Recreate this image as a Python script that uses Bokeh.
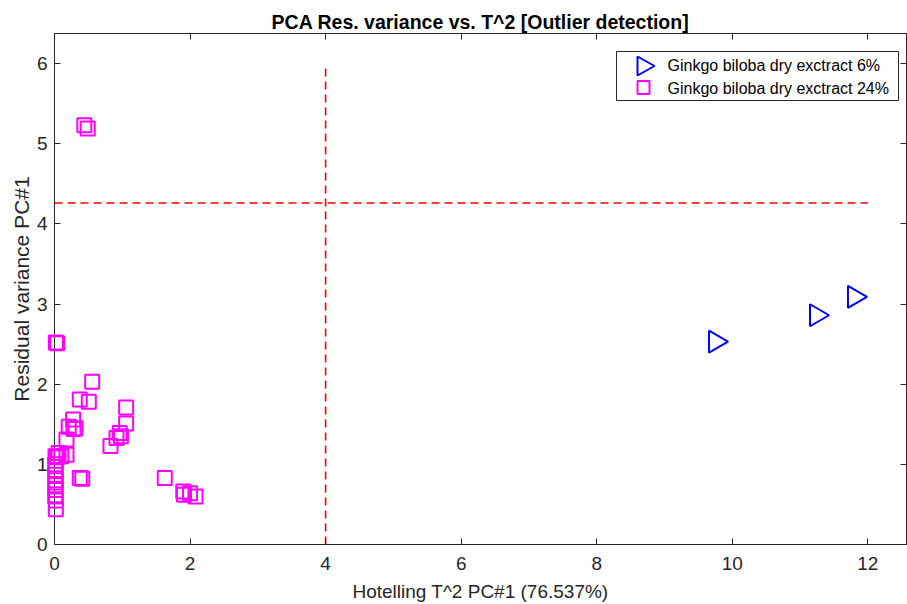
import numpy as np
from bokeh.plotting import figure
from bokeh.models import (Range1d, LinearAxis, FixedTicker, ColumnDataSource,
                          BoxAnnotation, PolyAnnotation, Label,
                          CustomLabelingPolicy, CustomJSTickFormatter)
from bokeh.embed import file_html
from bokeh.resources import INLINE

# Hotelling T^2 vs residual variance, PC#1
t2_6 = [9.75, 11.24, 11.80]
res_6 = [2.53, 2.86, 3.09]

t2_24 = [0.44, 0.49, 0.02, 0.04, 0.556, 0.373, 0.506, 1.057, 1.057,
         0.275, 0.21, 0.31, 0.28, 0.963, 0.915, 0.98, 0.826,
         0.177, 0.177, 0.06, 0.015, 0.04, 0.10,
         0.01, 0.02, 0.01, 0.02, 0.01, 0.02, 0.01, 0.02, 0.02,
         0.373, 0.41, 1.627, 1.90, 1.91, 2.00, 2.08]
res_24 = [5.23, 5.19, 2.52, 2.51, 2.03, 1.81, 1.78, 1.71, 1.51,
          1.56, 1.47, 1.45, 1.44, 1.39, 1.33, 1.35, 1.23,
          1.31, 1.12, 1.14, 1.10, 1.09, 1.10,
          1.00, 0.93, 0.87, 0.80, 0.74, 0.68, 0.60, 0.55, 0.44,
          0.83, 0.82, 0.83, 0.66, 0.62, 0.64, 0.60]

x_ticks = [0, 2, 4, 6, 8, 10, 12]
y_ticks = [0, 1, 2, 3, 4, 5, 6]

t2_limit = 4.0
res_limit = 4.26

label_6 = "Ginkgo biloba dry exctract 6%"
label_24 = "Ginkgo biloba dry exctract 24%"

FONT = "Liberation Sans"
INK = "#262626"
BLUE = "#0000FF"
MAGENTA = "#FF00FF"
RED = "#FF0000"

p = figure(width=907, height=604, output_backend="svg", toolbar_location=None,
           x_range=Range1d(0, 12.57), y_range=Range1d(0, 6.375),
           min_border_left=54, min_border_right=1, min_border_top=33,
           min_border_bottom=59)

p.title.text = "PCA Res. variance vs. T^2 [Outlier detection]"
p.title.align = "center"
p.title.text_font = FONT
p.title.text_font_size = "19.5px"
p.title.text_font_style = "bold"
p.title.text_color = "black"
p.title.offset = 0
p.title.standoff = 2

p.xgrid.visible = False
p.ygrid.visible = False
p.outline_line_color = INK

xa = p.xaxis[0]
xa.ticker = FixedTicker(ticks=x_ticks)
ya = p.yaxis[0]
ya.ticker = FixedTicker(ticks=y_ticks)
for ax in (xa, ya):
    ax.major_tick_in = 6
    ax.major_tick_out = 0
    ax.minor_tick_in = 0
    ax.minor_tick_out = 0
    ax.axis_line_color = INK
    ax.major_tick_line_color = INK
    ax.major_label_text_font = FONT
    ax.major_label_text_font_size = "19px"
    ax.major_label_text_color = INK
    ax.axis_label_text_font = FONT
    ax.axis_label_text_color = INK
    ax.axis_label_text_font_style = "normal"
xa.axis_label = "Hotelling T^2 PC#1 (76.537%)"
ya.axis_label = "Residual variance PC#1"
xa.axis_label_text_font_size = "19px"
ya.axis_label_text_font_size = "21px"
xa.major_label_standoff = 12
xa.axis_label_standoff = 8
ya.major_label_standoff = 7
ya.axis_label_standoff = 1

# tick marks on the top and right edges, without labels
no_labels = CustomLabelingPolicy(
    code="const all = [...indices]; for (const i of all) indices.unset(i); return indices")
blank = CustomJSTickFormatter(code="return ''")
top = LinearAxis(ticker=FixedTicker(ticks=x_ticks), formatter=blank)
right = LinearAxis(ticker=FixedTicker(ticks=y_ticks), formatter=blank)
for ax in (top, right):
    ax.major_tick_in = 6
    ax.major_tick_out = 0
    ax.minor_tick_in = 0
    ax.minor_tick_out = 0
    ax.axis_line_color = INK
    ax.major_tick_line_color = INK
    ax.major_label_policy = no_labels
    ax.major_label_standoff = 0
p.add_layout(top, "above")
p.add_layout(right, "right")

# control limits
p.line([t2_limit, t2_limit], [0, 6], line_color=RED, line_width=1.6,
       line_dash="8 5")
p.line([0, 12], [res_limit, res_limit], line_color=RED, line_width=1.6,
       line_dash="8 5")

src6 = ColumnDataSource(dict(x=t2_6, y=res_6))
src24 = ColumnDataSource(dict(x=t2_24, y=res_24))

p.scatter("x", "y", source=src6, marker="triangle", size=22,
          angle=-np.pi / 2, fill_color=None, line_color=BLUE,
          line_width=2, level="overlay")
p.scatter("x", "y", source=src24, marker="square", size=14,
          fill_color=None, line_color=MAGENTA, line_width=2, level="overlay")

# legend (frame-relative screen units)
p.add_layout(BoxAnnotation(left=562, right=844, bottom=444, top=493,
                           left_units="screen", right_units="screen",
                           bottom_units="screen", top_units="screen",
                           fill_color="white", fill_alpha=1.0,
                           line_color=INK, line_alpha=1.0, line_width=1))
p.add_layout(PolyAnnotation(xs=[583, 583, 600], ys=[488, 469, 478.5],
                            xs_units="screen", ys_units="screen",
                            fill_alpha=0, line_color=BLUE, line_alpha=1.0,
                            line_width=2))
p.add_layout(BoxAnnotation(left=583, right=595, bottom=450.5, top=463.5,
                           left_units="screen", right_units="screen",
                           bottom_units="screen", top_units="screen",
                           fill_alpha=0, line_color=MAGENTA, line_alpha=1.0,
                           line_width=2))
for txt, yy in ((label_6, 479), (label_24, 456)):
    p.add_layout(Label(x=613, y=yy, x_units="screen", y_units="screen",
                       text=txt, text_font=FONT, text_font_size="16px",
                       text_color="black", text_baseline="middle",
                       text_align="left"))

open("out.html", "w").write(file_html(p, INLINE))
